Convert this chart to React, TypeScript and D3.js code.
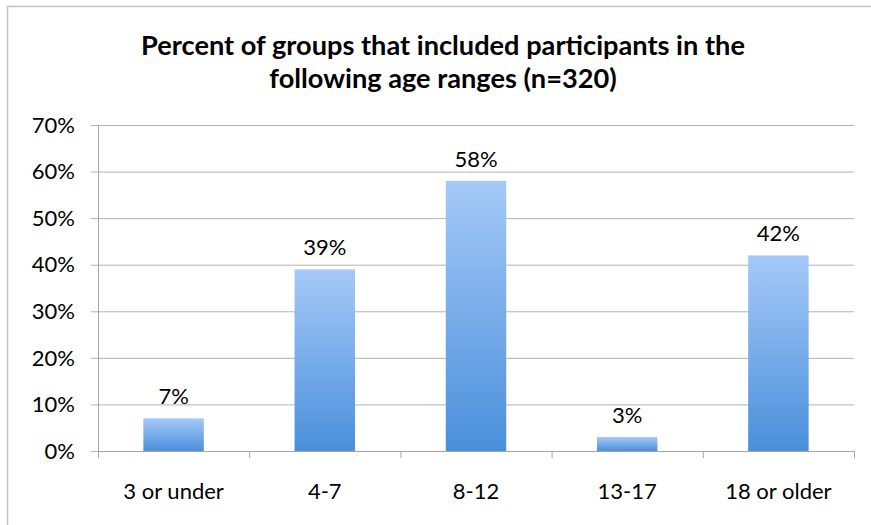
import React from "react";
import * as d3 from "d3";

const categories = ["3 or under", "4-7", "8-12", "13-17", "18 or older"];
const values = [0.07, 0.39, 0.58, 0.03, 0.42];
const valueLabels = ["7%", "39%", "58%", "3%", "42%"];
const yTicks = [0, 0.1, 0.2, 0.3, 0.4, 0.5, 0.6, 0.7];
const titleLines = [
  "Percent of groups that included participants in the",
  "following age ranges (n=320)",
];

const W = 871;
const H = 525;
const left = 98;
const right = 854;
const top = 125;
const bottom = 451;
const FONT = "Lato, 'Open Sans', sans-serif";

export default function App() {
  const x = d3.scaleBand<string>().domain(categories).range([left, right]).paddingInner(0.6).paddingOuter(0.3);
  const xb = d3.scaleBand<string>().domain(categories).range([left, right]);
  const y = d3.scaleLinear().domain([0, 0.7]).range([bottom, top]);
  const fmt = d3.format(".0%");
  const boundaries = d3.range(categories.length + 1).map((i) => left + i * xb.step());

  return (
    <svg
      width={W}
      height={H}
      style={{ position: "absolute", left: 0, top: 0, background: "#fff" }}
      fontFamily={FONT}
    >
      <defs>
        <linearGradient id="barGrad" x1="0" y1="0" x2="0" y2="1">
          <stop offset="0%" stopColor="#a5c9f8" />
          <stop offset="100%" stopColor="#4a8fdb" />
        </linearGradient>
      </defs>
      {/* frame */}
      <line x1={7} x2={W} y1={6.5} y2={6.5} stroke="#c4c4c4" strokeWidth={1.5} />
      <line x1={7.5} x2={7.5} y1={6} y2={H} stroke="#c4c4c4" strokeWidth={1.5} />

      {/* title */}
      {titleLines.map((t, i) => (
        <text
          key={i}
          x={443}
          y={55 + i * 33}
          textAnchor="middle"
          fontWeight="bold"
          fontSize={27.2}
          fill="#000"
        >
          {t}
        </text>
      ))}

      {/* gridlines & y ticks */}
      {yTicks.map((t) => (
        <g key={t}>
          <line x1={91} x2={right} y1={y(t) + 0.5} y2={y(t) + 0.5} stroke="#b3b3b3" strokeWidth={1} />
          <text x={75} y={y(t)} dy="0.35em" textAnchor="end" fontSize={22} fill="#000">
            {fmt(t)}
          </text>
        </g>
      ))}
      {/* y axis */}
      <line x1={left + 0.5} x2={left + 0.5} y1={top} y2={bottom + 1} stroke="#a6a6a6" strokeWidth={1} />
      {/* x ticks */}
      {boundaries.map((b, i) => (
        <line key={i} x1={b + 0.5} x2={b + 0.5} y1={bottom} y2={bottom + 7} stroke="#a6a6a6" strokeWidth={1} />
      ))}

      {/* bars */}
      {categories.map((c, i) => (
        <g key={c}>
          <rect
            x={x(c)}
            y={y(values[i])}
            width={x.bandwidth()}
            height={bottom - y(values[i])}
            fill="url(#barGrad)"
          />
          <text
            x={(x(c) as number) + x.bandwidth() / 2}
            y={y(values[i]) - 14}
            textAnchor="middle"
            fontSize={22}
            fill="#000"
          >
            {valueLabels[i]}
          </text>
          <text
            x={(xb(c) as number) + xb.bandwidth() / 2}
            y={499}
            textAnchor="middle"
            fontSize={22}
            fill="#000"
          >
            {c}
          </text>
        </g>
      ))}
      {/* x axis */}
      <line x1={left} x2={right + 1} y1={bottom + 0.5} y2={bottom + 0.5} stroke="#a6a6a6" strokeWidth={1} />
    </svg>
  );
}
